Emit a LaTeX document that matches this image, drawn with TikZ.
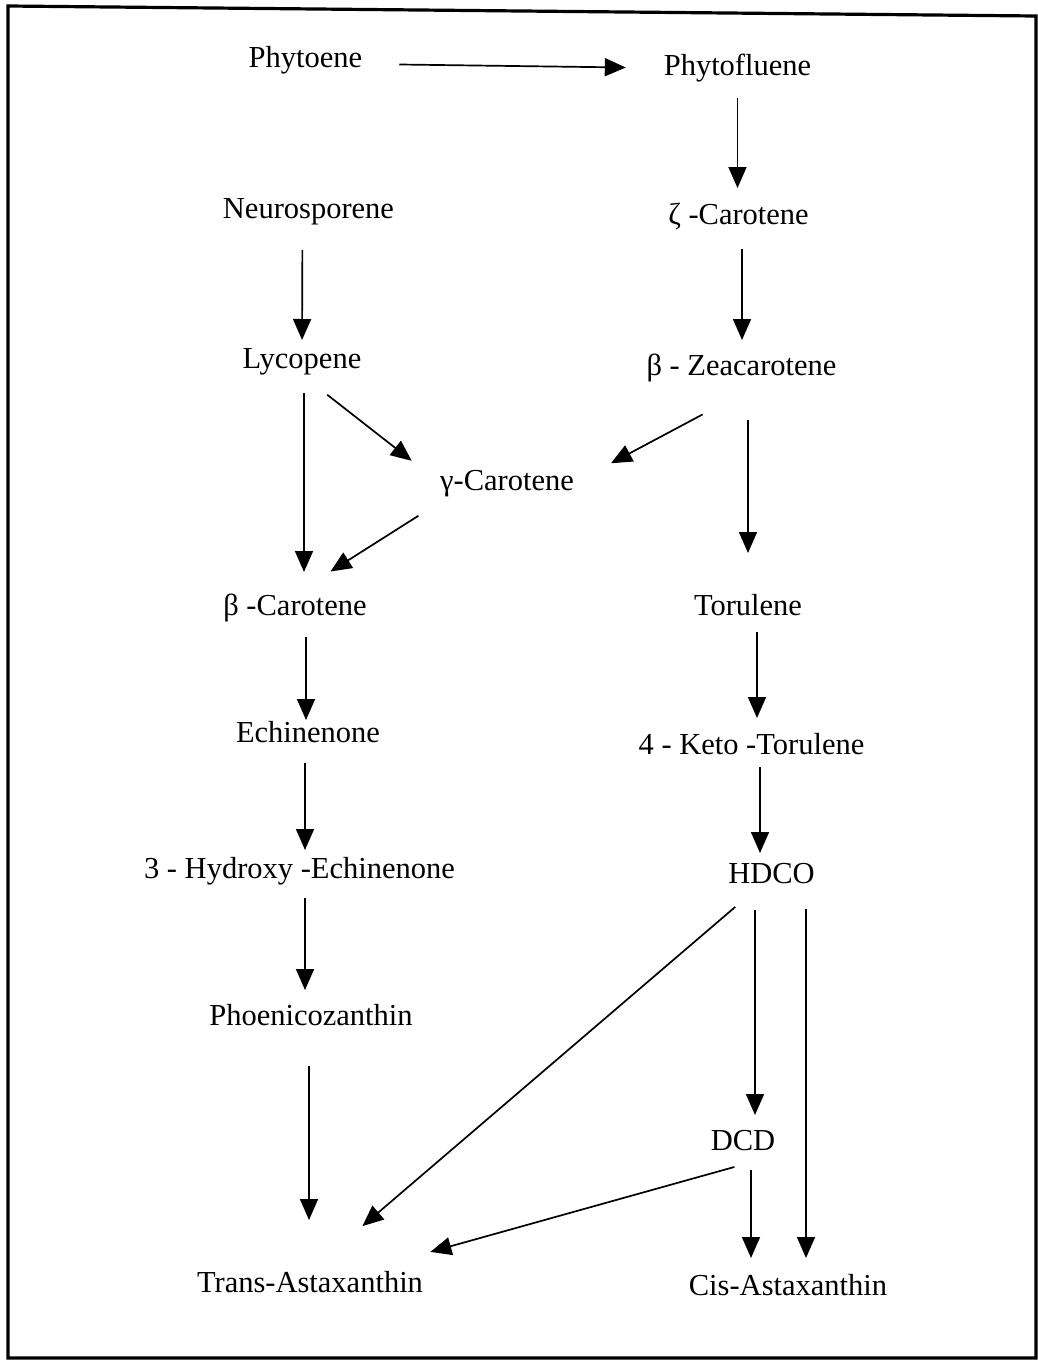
\documentclass[tikz,border=0pt]{standalone}
\usepackage{fontspec}
\setmainfont{Liberation Serif}
\usepackage{tikz}
\usetikzlibrary{arrows.meta}

\begin{document}
\begin{tikzpicture}[
  x=1pt, y=-1pt,
  every node/.style={font=\fontsize{30.5}{36}\selectfont},
  pigment/.style={anchor=base, inner sep=0pt, outer sep=0pt,
    text height=21pt, text depth=7pt},
  conv/.style={-{Triangle[length=21pt,width=18pt]}, line width=1.7pt},
  >=Stealth
]
\useasboundingbox (0,0) rectangle (1038,1361);

% ── Frame ─────────────────────────────────────────────────────────────────
\draw[line width=3.2pt] (8,6) -- (1036,16) -- (1036,1358) -- (8,1358) -- cycle;

% ── Left column ───────────────────────────────────────────────────────────
\node[pigment] (phytoene) at (305.5,67)  {Phytoene};
\node[pigment] (neuro)    at (308.5,218) {Neurosporene};
\node[pigment] (lyco)     at (302,368)   {Lycopene};
\node[pigment] (bcar)     at (295,615)   {β -Carotene};
\node[pigment] (echin)    at (308,742)   {Echinenone};
\node[pigment] (hydroxy)  at (299.5,878) {3 - Hydroxy -Echinenone};
\node[pigment] (phoeni)   at (311,1025)  {Phoenicozanthin};
\node[pigment] (trans)    at (310,1292)  {Trans-Astaxanthin};

% ── Middle ────────────────────────────────────────────────────────────────
\node[pigment] (gcar)     at (507,490)   {γ-Carotene};

% ── Right column ──────────────────────────────────────────────────────────
\node[pigment] (phytofl)  at (737.5,75)  {Phytofluene};
\node[pigment] (zcar)     at (738.5,224) {ζ -Carotene};
\node[pigment] (bzea)     at (741.5,375) {β - Zeacarotene};
\node[pigment] (torul)    at (748,615)   {Torulene};
\node[pigment] (keto)     at (751.5,754) {4 - Keto -Torulene};
\node[pigment] (hdco)     at (771.5,883) {HDCO};
\node[pigment] (dcd)      at (743,1150)  {DCD};
\node[pigment] (cis)      at (788,1295)  {Cis-Astaxanthin};

% ── Upper conversions ─────────────────────────────────────────────────────
\draw[conv, shorten <=37pt, shorten >=38pt] ([yshift=-4pt]phytoene.east) -- (phytofl.west);
\draw[conv, shorten <=16pt, shorten >=15pt] (phytofl.south) -- (phytofl.south |- zcar.north);
\draw[conv, shorten <=25pt, shorten >=7pt] ([xshift=-6pt]neuro.south) -- (lyco.north);
\draw[conv, shorten <=18pt, shorten >=14pt] ([xshift=3.5pt]zcar.south) -- ([xshift=0.5pt]bzea.north);
\draw[conv, shorten <=18pt, shorten >=22pt] ([xshift=2pt]lyco.south) -- ([xshift=9pt]bcar.north);
\draw[conv, shorten <=32pt, shorten >=36pt] (lyco.south) -- (gcar.west);
\draw[conv, shorten <=69pt, shorten >=42pt] ([xshift=22pt]bzea.south) -- (gcar.east);
\draw[conv, shorten <=35pt, shorten >=42pt] ([xshift=-59pt]gcar.south) -- (bcar.north);
\draw[conv, shorten <=38pt, shorten >=41pt] ([xshift=6.5pt]bzea.south) -- (torul.north);

% ── Middle conversions ────────────────────────────────────────────────────
\draw[conv, shorten <=15pt, shorten >=1pt] ([xshift=11pt]bcar.south) -- ([xshift=-2pt]echin.north);
\draw[conv, shorten <=10pt, shorten >=15pt] ([xshift=9pt]torul.south) -- ([xshift=5.5pt]keto.north);
\draw[conv, shorten <=14pt, shorten >=7pt] ([xshift=-3pt]echin.south) -- ([xshift=5.5pt]hydroxy.north);
\draw[conv, shorten <=6pt, shorten >=9pt] ([xshift=8.5pt]keto.south) -- ([xshift=-11.5pt]hdco.north);
\draw[conv, shorten <=13pt, shorten >=14pt] ([xshift=5.5pt]hydroxy.south) -- ([xshift=-6pt]phoeni.north);

% ── Lower conversions ─────────────────────────────────────────────────────
\draw[conv, shorten <=34pt, shorten >=51pt] ([xshift=-2pt]phoeni.south) -- ([xshift=-1pt]trans.north);
\draw[conv, shorten <=26pt, shorten >=69pt] ([xshift=-16.5pt]hdco.south) -- (trans.north);
\draw[conv, shorten <=20pt, shorten >=14pt] ([xshift=-16.5pt]hdco.south) -- ([xshift=12pt]dcd.north);
\draw[conv, shorten <=19pt, shorten >=16pt] ([xshift=34.5pt]hdco.south) -- ([xshift=18pt]cis.north);
\draw[conv, shorten <=37pt, shorten >=71pt] ([xshift=27pt]dcd.south) -- ([xshift=52pt]trans.north);
\draw[conv, shorten <=13pt, shorten >=16pt] ([xshift=8pt]dcd.south) -- ([xshift=-37pt]cis.north);

\end{tikzpicture}
\end{document}
